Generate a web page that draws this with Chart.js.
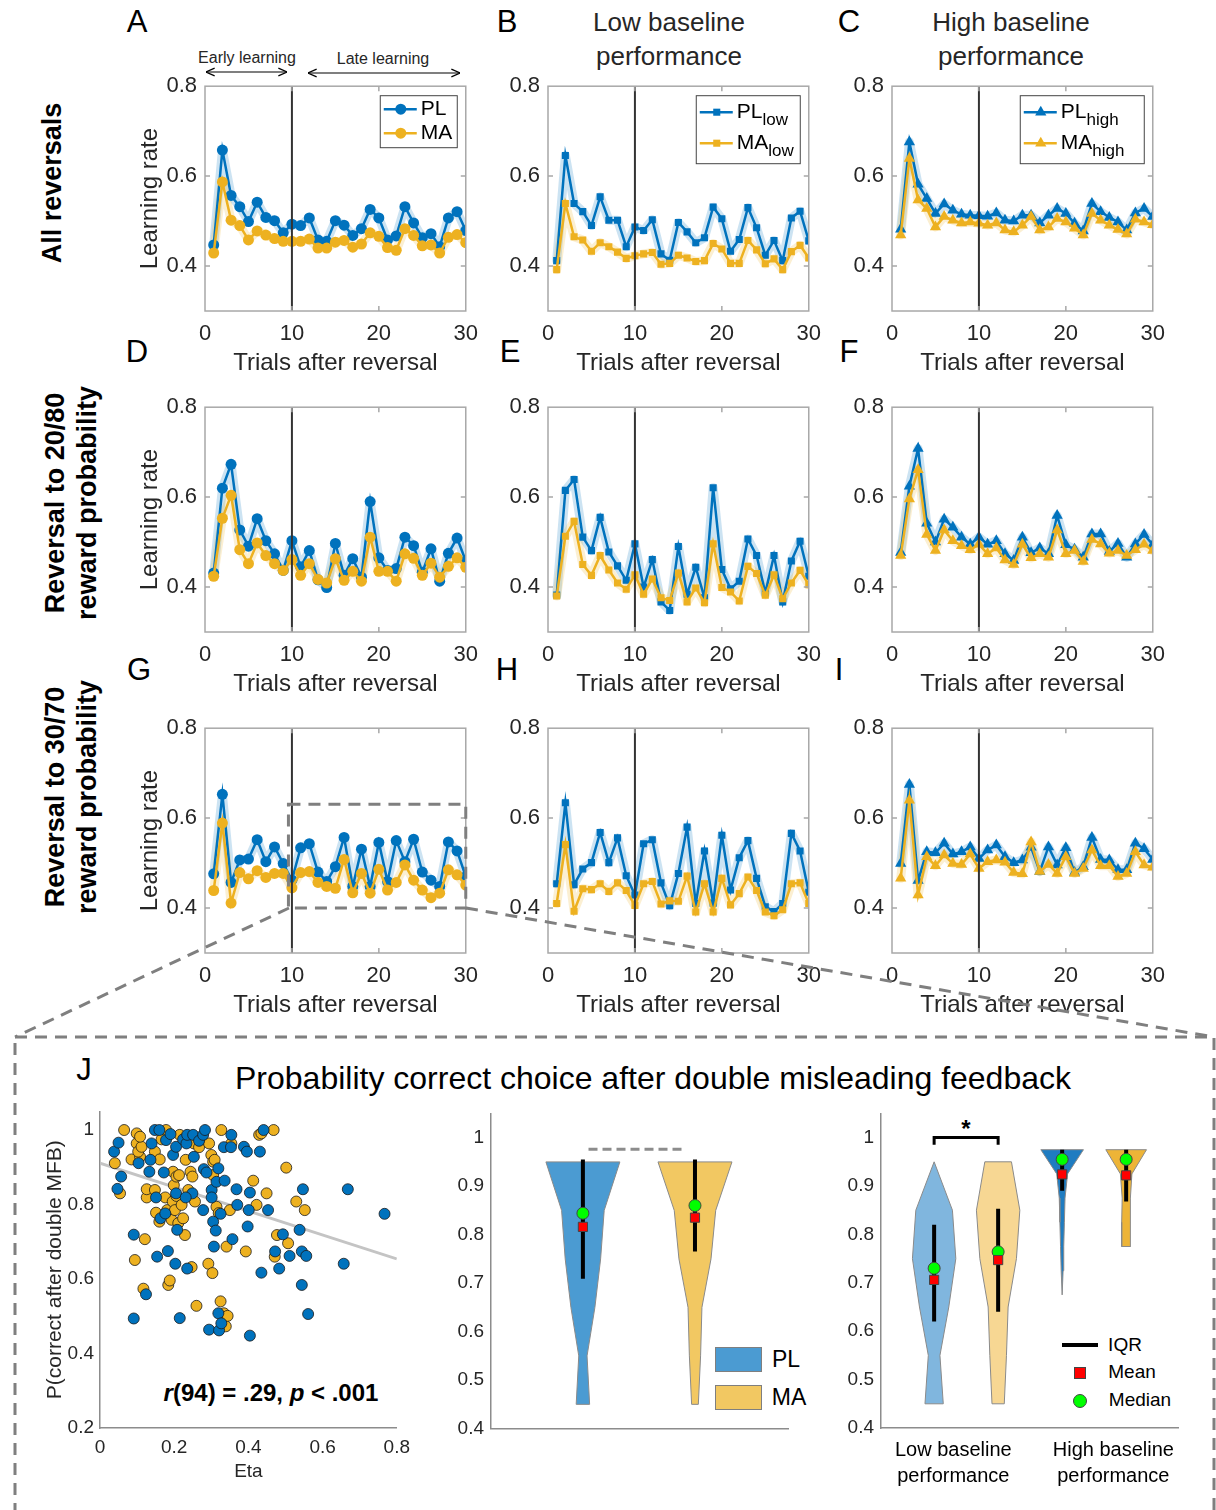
<!DOCTYPE html>
<html>
<head>
<meta charset="utf-8">
<script src="https://cdn.jsdelivr.net/npm/chart.js@4.4.1/dist/chart.umd.min.js"></script>
<style>
body { margin: 0; background: #fff; }
#fig { position: relative; width: 1216px; height: 1510px; overflow: hidden; font-family: "Liberation Sans", Arial, Helvetica, sans-serif; color: #262626; }
#fig canvas { position: absolute; }
.t { position: absolute; transform: translate(-50%, -50%); white-space: nowrap; }
.rot { position: absolute; transform: translate(-50%, -50%) rotate(-90deg); white-space: nowrap; text-align: center; font-weight: bold; font-size: 27px; line-height: 32px; color: #000; }
.letter { font-size: 31px; color: #000; }
.sw { position: absolute; border: 1px solid #7f7f7f; }
</style>
</head>
<body>
<div id="fig">
  <div class="t letter" style="left:137px;top:22px">A</div>
  <div class="t letter" style="left:507px;top:22px">B</div>
  <div class="t letter" style="left:849px;top:22px">C</div>
  <div class="t letter" style="left:137px;top:352px">D</div>
  <div class="t letter" style="left:510px;top:352px">E</div>
  <div class="t letter" style="left:849px;top:352px">F</div>
  <div class="t letter" style="left:139px;top:670px">G</div>
  <div class="t letter" style="left:507px;top:670px">H</div>
  <div class="t letter" style="left:839px;top:670px">I</div>
  <div class="t letter" style="left:84px;top:1070px">J</div>

  <div class="t" style="left:669px;top:39px;font-size:26px;line-height:34px;text-align:center">Low baseline<br>performance</div>
  <div class="t" style="left:1011px;top:39px;font-size:26px;line-height:34px;text-align:center">High baseline<br>performance</div>

  <div class="rot" style="left:52px;top:183px">All reversals</div>
  <div class="rot" style="left:71px;top:503px">Reversal to 20/80<br>reward probability</div>
  <div class="rot" style="left:71px;top:797px">Reversal to 30/70<br>reward probability</div>

  <div class="t" style="left:247px;top:58px;font-size:16px">Early learning</div>
  <div class="t" style="left:383px;top:59px;font-size:16px">Late learning</div>

  <div class="t" style="left:653px;top:1078px;font-size:32px;color:#000">Probability correct choice after double misleading feedback</div>
  <div class="t" style="left:271px;top:1393px;font-size:24px;font-weight:bold;color:#000"><i>r</i>(94) = .29, <i>p</i> &lt; .001</div>

  <div class="sw" style="left:715px;top:1347px;width:45px;height:23px;background:#4b9bd2"></div>
  <div class="t" style="left:786px;top:1359px;font-size:23px;color:#000">PL</div>
  <div class="sw" style="left:715px;top:1385px;width:45px;height:23px;background:#f2c862"></div>
  <div class="t" style="left:789px;top:1397px;font-size:23px;color:#000">MA</div>

  <div class="t" style="left:966px;top:1129px;font-size:24px;font-weight:bold;color:#000">*</div>

  <div style="position:absolute;left:1062px;top:1343px;width:36px;height:4px;background:#000"></div>
  <div class="t" style="left:1125px;top:1345px;font-size:19px;color:#000">IQR</div>
  <div style="position:absolute;left:1074px;top:1367px;width:10px;height:10px;background:#f00;border:1px solid #444"></div>
  <div class="t" style="left:1132px;top:1372px;font-size:19px;color:#000">Mean</div>
  <div style="position:absolute;left:1073px;top:1394px;width:12px;height:12px;border-radius:50%;background:#0f0;border:1px solid #444"></div>
  <div class="t" style="left:1140px;top:1400px;font-size:19px;color:#000">Median</div>

  <svg width="1216" height="1510" style="position:absolute;left:0;top:0;pointer-events:none;z-index:5">
    <defs>
      <marker id="ah" viewBox="0 0 10 10" refX="10" refY="5" markerWidth="8" markerHeight="8" orient="auto-start-reverse">
        <path d="M1,1 L10,5 L1,9" fill="none" stroke="#000" stroke-width="1.3"/>
      </marker>
    </defs>
    <line x1="206" y1="72" x2="287" y2="72" stroke="#000" stroke-width="1.2" marker-start="url(#ah)" marker-end="url(#ah)"/>
    <line x1="308" y1="73" x2="460" y2="73" stroke="#000" stroke-width="1.2" marker-start="url(#ah)" marker-end="url(#ah)"/>
    <g stroke="#7f7f7f" stroke-width="3" stroke-dasharray="12 8" fill="none">
      <rect x="15" y="1037" width="1199" height="520"/>
      <line x1="289" y1="908" x2="15" y2="1037"/>
      <line x1="466" y1="908" x2="1214" y2="1037"/>
    </g>
  </svg>
</div>

<script>
const BLUE = '#0072BD', ORANGE = '#EDB120';
const BLUE_BAND = 'rgba(0,114,189,0.2)', ORANGE_BAND = 'rgba(237,177,32,0.2)';
const TXT = '#262626';

// trial index after reversal
const trials = [1,2,3,4,5,6,7,8,9,10,11,12,13,14,15,16,17,18,19,20,21,22,23,24,25,26,27,28,29,30];

// A: all reversals
const allPL  = [0.447,0.658,0.557,0.532,0.499,0.542,0.508,0.501,0.474,0.493,0.490,0.507,0.458,0.455,0.501,0.491,0.468,0.483,0.526,0.507,0.458,0.467,0.532,0.496,0.463,0.472,0.443,0.507,0.521,0.479];
const allMA  = [0.429,0.587,0.502,0.490,0.458,0.478,0.469,0.461,0.455,0.455,0.455,0.460,0.440,0.440,0.453,0.457,0.442,0.449,0.474,0.466,0.441,0.435,0.483,0.468,0.445,0.447,0.429,0.464,0.470,0.452];
// B, C: all reversals split by baseline performance
const lowPL  = [0.412,0.646,0.539,0.521,0.490,0.554,0.502,0.502,0.443,0.487,0.479,0.503,0.427,0.413,0.497,0.476,0.452,0.463,0.531,0.505,0.433,0.459,0.530,0.485,0.424,0.457,0.412,0.507,0.522,0.456];
const lowMA  = [0.392,0.539,0.465,0.458,0.433,0.452,0.443,0.431,0.417,0.423,0.427,0.430,0.404,0.406,0.424,0.418,0.410,0.412,0.450,0.438,0.406,0.406,0.457,0.436,0.405,0.416,0.392,0.432,0.446,0.418];
const highPL = [0.482,0.676,0.582,0.550,0.517,0.538,0.524,0.515,0.513,0.512,0.511,0.518,0.502,0.500,0.513,0.513,0.496,0.513,0.528,0.517,0.495,0.478,0.539,0.521,0.508,0.498,0.480,0.518,0.528,0.510];
const highMA = [0.469,0.639,0.547,0.528,0.487,0.510,0.502,0.496,0.498,0.495,0.491,0.496,0.480,0.476,0.491,0.510,0.480,0.487,0.506,0.498,0.484,0.469,0.517,0.502,0.491,0.481,0.471,0.504,0.498,0.492];
// D, E, F: reversal to 20/80
const r20PL     = [0.431,0.620,0.673,0.527,0.491,0.552,0.503,0.474,0.437,0.503,0.445,0.481,0.416,0.399,0.497,0.426,0.463,0.422,0.590,0.465,0.437,0.441,0.511,0.492,0.433,0.485,0.413,0.475,0.509,0.458];
const r20MA     = [0.424,0.553,0.604,0.483,0.452,0.498,0.470,0.452,0.437,0.461,0.426,0.452,0.417,0.409,0.463,0.415,0.435,0.413,0.511,0.435,0.435,0.413,0.474,0.464,0.426,0.453,0.422,0.446,0.465,0.444];
const r20lowPL  = [0.382,0.615,0.639,0.511,0.481,0.555,0.478,0.447,0.415,0.496,0.400,0.461,0.367,0.348,0.490,0.384,0.444,0.376,0.621,0.439,0.396,0.413,0.507,0.470,0.387,0.470,0.367,0.458,0.502,0.424];
const r20lowMA  = [0.380,0.513,0.546,0.450,0.426,0.470,0.438,0.409,0.395,0.427,0.384,0.418,0.376,0.370,0.431,0.367,0.398,0.365,0.496,0.399,0.389,0.369,0.446,0.430,0.382,0.427,0.374,0.409,0.437,0.405];
const r20highPL = [0.477,0.624,0.708,0.542,0.500,0.551,0.533,0.511,0.495,0.511,0.495,0.503,0.474,0.459,0.511,0.476,0.487,0.474,0.559,0.494,0.484,0.466,0.518,0.518,0.479,0.497,0.466,0.496,0.517,0.494];
const r20highMA = [0.470,0.596,0.661,0.517,0.481,0.527,0.503,0.492,0.483,0.495,0.474,0.487,0.460,0.450,0.495,0.465,0.474,0.466,0.527,0.474,0.481,0.457,0.506,0.496,0.475,0.481,0.470,0.483,0.495,0.481];
// G, H, I: reversal to 30/70
const r30PL     = [0.476,0.653,0.457,0.507,0.509,0.552,0.503,0.536,0.499,0.462,0.534,0.543,0.480,0.459,0.492,0.557,0.448,0.531,0.448,0.546,0.459,0.550,0.503,0.553,0.480,0.462,0.448,0.547,0.527,0.470];
const r30MA     = [0.439,0.589,0.411,0.479,0.465,0.483,0.468,0.477,0.477,0.445,0.479,0.481,0.457,0.448,0.444,0.508,0.434,0.477,0.433,0.486,0.440,0.457,0.496,0.462,0.440,0.423,0.433,0.485,0.474,0.451];
const r30lowPL  = [0.454,0.634,0.452,0.487,0.501,0.568,0.501,0.556,0.472,0.429,0.543,0.552,0.456,0.405,0.477,0.580,0.410,0.527,0.411,0.562,0.440,0.512,0.550,0.466,0.403,0.392,0.410,0.566,0.527,0.435];
const r30lowMA  = [0.410,0.541,0.393,0.443,0.441,0.454,0.437,0.456,0.439,0.406,0.454,0.459,0.409,0.416,0.415,0.471,0.391,0.454,0.391,0.466,0.407,0.432,0.469,0.439,0.391,0.383,0.396,0.454,0.456,0.410];
const r30highPL = [0.499,0.675,0.461,0.525,0.523,0.544,0.520,0.525,0.536,0.510,0.529,0.540,0.514,0.501,0.507,0.535,0.481,0.536,0.496,0.534,0.479,0.492,0.557,0.508,0.507,0.485,0.485,0.544,0.532,0.508];
const r30highMA = [0.466,0.640,0.429,0.514,0.494,0.518,0.499,0.497,0.520,0.488,0.503,0.507,0.502,0.479,0.476,0.547,0.481,0.497,0.477,0.514,0.477,0.488,0.529,0.494,0.494,0.470,0.477,0.525,0.496,0.491];

const lrTicks = [0.4, 0.6, 0.8];
const trialTicks = [0, 10, 20, 30];

// J left: eta vs P(correct after double MFB)
const etaPL = [0.038,0.050,0.057,0.047,0.091,0.091,0.104,0.124,0.133,0.136,0.139,0.148,0.160,0.151,0.154,0.163,0.172,0.176,0.183,0.178,0.190,0.197,0.205,0.203,0.208,0.215,0.205,0.224,0.233,0.235,0.251,0.253,0.249,0.231,0.235,0.267,0.278,0.283,0.280,0.287,0.278,0.301,0.301,0.305,0.307,0.312,0.319,0.314,0.325,0.294,0.319,0.321,0.327,0.336,0.334,0.354,0.353,0.357,0.368,0.370,0.388,0.396,0.398,0.404,0.401,0.404,0.431,0.435,0.441,0.453,0.472,0.483,0.493,0.511,0.538,0.544,0.544,0.547,0.556,0.561,0.657,0.668,0.767];
const pcPL  = [0.942,0.966,0.875,0.842,0.719,0.494,0.911,0.559,0.888,0.920,0.964,1.000,1.000,0.819,0.660,0.763,0.886,0.776,0.675,0.973,0.989,0.933,0.830,0.641,0.732,0.495,0.955,0.975,0.964,0.987,0.987,0.928,0.830,0.819,0.628,0.971,0.987,1.000,0.895,0.886,0.785,0.839,0.819,0.754,0.687,0.730,0.897,0.861,0.775,0.464,0.508,0.462,0.481,0.864,0.954,0.987,0.954,0.707,0.841,0.799,0.955,0.942,0.741,0.832,0.785,0.448,0.942,0.617,1.000,0.785,0.674,0.628,0.720,0.662,0.732,0.674,0.584,0.841,0.662,0.506,0.641,0.841,0.775];
const etaMA = [0.065,0.040,0.054,0.094,0.085,0.099,0.099,0.108,0.103,0.112,0.108,0.121,0.126,0.126,0.117,0.148,0.148,0.151,0.160,0.161,0.166,0.178,0.176,0.181,0.184,0.188,0.193,0.196,0.197,0.199,0.202,0.206,0.206,0.211,0.213,0.215,0.220,0.224,0.229,0.231,0.238,0.244,0.247,0.249,0.256,0.260,0.253,0.267,0.292,0.294,0.300,0.303,0.305,0.305,0.309,0.314,0.320,0.325,0.327,0.334,0.341,0.339,0.344,0.350,0.354,0.413,0.393,0.422,0.429,0.435,0.449,0.468,0.471,0.477,0.507,0.502,0.529,0.552];
const pcMA  = [1.000,0.911,0.830,0.651,0.921,0.991,0.964,0.928,0.942,0.955,0.982,0.707,0.819,0.841,0.574,0.839,0.942,0.778,0.754,0.921,0.975,1.000,0.819,0.785,0.584,0.596,0.759,0.808,0.888,0.852,0.785,0.823,0.875,0.750,0.879,0.987,0.799,0.763,0.718,0.920,0.839,0.888,0.632,0.875,0.808,0.528,0.964,0.954,0.641,0.964,0.933,0.616,0.915,0.879,0.920,0.794,0.777,0.540,1.000,0.508,0.687,0.473,0.501,0.785,0.964,0.864,0.674,0.799,0.987,0.991,0.830,1.000,0.660,0.718,0.696,0.899,0.808,0.785];
const fitEta = [0, 0.8];
const fitPc  = [0.911, 0.654];

// J middle: PL vs MA violins (density half-widths at each level)
const vioLevels = [0.45, 0.55, 0.65, 0.75, 0.85, 0.95];
const vioPL = [0.060, 0.037, 0.107, 0.158, 0.190, 0.330];
const vioMA = [0.030, 0.050, 0.062, 0.143, 0.185, 0.330];
const groupIQR = [[0.709, 0.955], [0.765, 0.955]];
const groupMedian = [0.844, 0.860];
const groupMean = [0.816, 0.835];
const sepLine = [[1.05, 0.976], [1.92, 0.976]];

// J right: split by baseline performance
const lowLevels = [0.45, 0.55, 0.65, 0.75, 0.85, 0.95];
const lowPLw = [0.143, 0.091, 0.229, 0.339, 0.286, 0.000];
const lowMAw = [0.096, 0.130, 0.156, 0.286, 0.339, 0.208];
const highPLlevels = [0.675, 0.725, 0.775, 0.825, 0.875, 0.925, 0.975];
const highPLw = [0.000, 0.015, 0.025, 0.035, 0.045, 0.085, 0.333];
const highMAlevels = [0.775, 0.825, 0.875, 0.925, 0.975];
const highMAw = [0.070, 0.070, 0.062, 0.090, 0.318];
const splitIQR = [[0.620, 0.820], [0.640, 0.853], [0.890, 0.975], [0.868, 0.975]];
const splitMedian = [0.730, 0.764, 0.955, 0.955];
const splitMean = [0.706, 0.747, 0.924, 0.922];
const sigBracket = [[1, 0.985], [1, 1.0], [2, 1.0], [2, 0.985]];
const splitLabels = [['Low baseline', 'performance'], ['High baseline', 'performance']];
const splitLabelPos = [1.3, 3.8];

Chart.defaults.font.family = '"Liberation Sans", Arial, Helvetica, sans-serif';
Chart.defaults.color = TXT;
Chart.defaults.animation = false;
Chart.defaults.events = [];
Chart.defaults.plugins.legend.display = false;
Chart.defaults.plugins.tooltip.enabled = false;

const fig = document.getElementById('fig');

// build a chart, then grow its canvas until the plot area has the wanted size,
// and shift the canvas so the plot area lands at (x, y)
function placeChart(target, pad, makeConfig) {
  let w = pad.l + target.w + pad.r, h = pad.t + target.h + pad.b;
  const cv = document.createElement('canvas');
  fig.appendChild(cv);
  let chart = null;
  for (let k = 0; k < 3; k++) {
    if (chart) chart.destroy();
    cv.width = w; cv.height = h;
    cv.style.width = w + 'px'; cv.style.height = h + 'px';
    chart = new Chart(cv, makeConfig());
    const a = chart.chartArea;
    const dw = Math.round(target.w - (a.right - a.left)), dh = Math.round(target.h - (a.bottom - a.top));
    if (!dw && !dh) break;
    w += dw; h += dh;
  }
  const a = chart.chartArea;
  cv.style.left = (target.x - a.left) + 'px';
  cv.style.top = (target.y - a.top) + 'px';
  return chart;
}
const fixedTicks = vals => scale => { scale.ticks = vals.map(v => ({value: v})); };
const numLabel = v => String(+v.toFixed(2));

function drawMarker(ctx, style, x, y, r) {
  ctx.beginPath();
  if (style === 'circle') ctx.arc(x, y, r, 0, Math.PI * 2);
  else if (style === 'rect') { const s = r * Math.SQRT1_2; ctx.rect(x - s, y - s, 2 * s, 2 * s); }
  else { ctx.moveTo(x, y - r); ctx.lineTo(x + r * 0.866, y + r * 0.5); ctx.lineTo(x - r * 0.866, y + r * 0.5); ctx.closePath(); }
  ctx.fill();
}

// box, inward ticks, reversal line, in-axes legend and zoom rectangle
const panelDecor = {
  id: 'panelDecor',
  afterDatasetsDraw(chart, args, o) {
    const {ctx, chartArea: a, scales: {x, y}} = chart;
    ctx.save();
    const xr = x.getPixelForValue(10);
    ctx.strokeStyle = '#333'; ctx.lineWidth = 2;
    ctx.beginPath(); ctx.moveTo(xr, a.top); ctx.lineTo(xr, a.bottom); ctx.stroke();

    ctx.strokeStyle = '#a8a8a8'; ctx.lineWidth = 1.5;
    ctx.strokeRect(a.left, a.top, a.width, a.height);
    ctx.beginPath();
    [10, 20].forEach(v => {
      const p = x.getPixelForValue(v);
      ctx.moveTo(p, a.bottom); ctx.lineTo(p, a.bottom - 5);
      ctx.moveTo(p, a.top); ctx.lineTo(p, a.top + 5);
    });
    [0.4, 0.6].forEach(v => {
      const p = y.getPixelForValue(v);
      ctx.moveTo(a.left, p); ctx.lineTo(a.left + 5, p);
      ctx.moveTo(a.right, p); ctx.lineTo(a.right - 5, p);
    });
    ctx.stroke();

    if (o.rect) {
      const r = o.rect;
      ctx.setLineDash([12, 8]);
      ctx.strokeStyle = '#7f7f7f'; ctx.lineWidth = 3;
      const x0 = x.getPixelForValue(r[0]), x1 = x.getPixelForValue(r[1]);
      const y0 = y.getPixelForValue(r[2]), y1 = y.getPixelForValue(r[3]);
      ctx.strokeRect(x0, y1, x1 - x0, y0 - y1);
      ctx.setLineDash([]);
    }

    if (o.legend) {
      const L = o.legend;
      const bx = a.right - 9 - L.w, by = a.top + 9;
      ctx.fillStyle = '#fff';
      ctx.fillRect(bx, by, L.w, L.h);
      ctx.strokeStyle = '#444'; ctx.lineWidth = 1;
      ctx.strokeRect(bx + 0.5, by + 0.5, L.w, L.h);
      L.items.forEach((it, i) => {
        const yy = by + L.rows[i];
        ctx.strokeStyle = it.color; ctx.fillStyle = it.color; ctx.lineWidth = 2.5;
        ctx.beginPath(); ctx.moveTo(bx + 4, yy); ctx.lineTo(bx + 37, yy); ctx.stroke();
        drawMarker(ctx, o.marker, bx + 21, yy, o.radius);
        ctx.fillStyle = '#000';
        ctx.textBaseline = 'middle';
        ctx.font = '21px "Liberation Sans", Arial';
        ctx.fillText(it.label, bx + 41, yy);
        if (it.sub) {
          const w = ctx.measureText(it.label).width;
          ctx.font = '17px "Liberation Sans", Arial';
          ctx.fillText(it.sub, bx + 41 + w, yy + 8);
        }
      });
    }
    ctx.restore();
  }
};

const COL_X = [205, 548, 892], ROW_Y = [86, 407, 728];
const PLOT_W = 261, PLOT_H = 225;
const MARKERS = {circle: 5.5, rect: 5, triangle: 6.5};

const panels = [
  {col: 0, row: 0, pl: allPL, ma: allMA, marker: 'circle', legend: {w: 77, h: 52, rows: [14, 38], sub: ''}},
  {col: 1, row: 0, pl: lowPL, ma: lowMA, marker: 'rect', legend: {w: 104, h: 68, rows: [17, 48], sub: 'low'}},
  {col: 2, row: 0, pl: highPL, ma: highMA, marker: 'triangle', legend: {w: 124, h: 68, rows: [17, 48], sub: 'high'}},
  {col: 0, row: 1, pl: r20PL, ma: r20MA, marker: 'circle'},
  {col: 1, row: 1, pl: r20lowPL, ma: r20lowMA, marker: 'rect'},
  {col: 2, row: 1, pl: r20highPL, ma: r20highMA, marker: 'triangle'},
  {col: 0, row: 2, pl: r30PL, ma: r30MA, marker: 'circle', rect: [9.6, 30, 0.4, 0.631]},
  {col: 1, row: 2, pl: r30lowPL, ma: r30lowMA, marker: 'rect'},
  {col: 2, row: 2, pl: r30highPL, ma: r30highMA, marker: 'triangle'}
];

panels.forEach(p => {
  const L = 73, T = 14, R = 16, B = 68;
  const rad = MARKERS[p.marker];
  const pts = arr => trials.map((t, i) => ({x: t, y: arr[i]}));
  const mean = (arr, color) => ({
    data: pts(arr), borderColor: color, backgroundColor: color, borderWidth: 2.5,
    pointStyle: p.marker, pointRadius: rad, pointBorderWidth: 0, pointBackgroundColor: color
  });
  const band = (arr, color) => ({
    data: pts(arr), borderColor: color, borderWidth: 9, pointRadius: 0, borderJoinStyle: 'round', borderCapStyle: 'round'
  });
  const legend = p.legend ? Object.assign({}, p.legend, {
    items: [{label: 'PL', sub: p.legend.sub, color: BLUE}, {label: 'MA', sub: p.legend.sub, color: ORANGE}]
  }) : null;

  placeChart({x: COL_X[p.col], y: ROW_Y[p.row], w: PLOT_W, h: PLOT_H}, {l: L, t: T, r: R, b: B}, () => ({
    type: 'line',
    data: {datasets: [mean(p.ma, ORANGE), mean(p.pl, BLUE), band(p.ma, ORANGE_BAND), band(p.pl, BLUE_BAND)]},
    options: {
      responsive: false,
      maintainAspectRatio: false,
      layout: {padding: {top: T, right: R, left: 0, bottom: 0}},
      scales: {
        x: {
          type: 'linear', min: 0, max: 30,
          afterBuildTicks: fixedTicks(trialTicks),
          afterFit: s => { s.height = B; },
          grid: {display: false, drawTicks: false},
          border: {display: false},
          ticks: {font: {size: 22}, color: TXT, padding: 10, maxRotation: 0, callback: numLabel},
          title: {display: true, text: 'Trials after reversal', font: {size: 24}, color: TXT, padding: {top: 0, bottom: 1}}
        },
        y: {
          min: 0.3, max: 0.8,
          afterBuildTicks: fixedTicks(lrTicks),
          afterFit: s => { s.width = L; },
          grid: {display: false, drawTicks: false},
          border: {display: false},
          ticks: {font: {size: 22}, color: TXT, padding: 8, callback: v => v.toFixed(1)},
          title: {display: p.col === 0, text: 'Learning rate', font: {size: 24}, color: TXT, padding: {top: 4, bottom: 0}}
        }
      },
      plugins: {panelDecor: {legend, marker: p.marker, radius: rad, rect: p.rect || null}}
    },
    plugins: [panelDecor]
  }));
});

// ---- J left: scatter with regression line
(() => {
  const L = 61, T = 14, R = 16, B = 58;
  const dots = (xs, ys, color) => ({
    data: xs.map((v, i) => ({x: v, y: ys[i]})),
    pointRadius: 5.5, backgroundColor: color, borderColor: '#1a1a1a', borderWidth: 0.8
  });
  placeChart({x: 100, y: 1111, w: 297, h: 317}, {l: L, t: T, r: R, b: B}, () => ({
    type: 'scatter',
    data: {datasets: [
      dots(etaPL, pcPL, BLUE),
      dots(etaMA, pcMA, ORANGE),
      {data: fitEta.map((v, i) => ({x: v, y: fitPc[i]})), showLine: true, borderColor: '#c4c4c4', borderWidth: 3, pointRadius: 0}
    ]},
    options: {
      responsive: false,
      maintainAspectRatio: false,
      layout: {padding: {top: T, right: R, left: 0, bottom: 0}},
      scales: {
        x: {
          type: 'linear', min: 0, max: 0.8,
          afterBuildTicks: fixedTicks([0, 0.2, 0.4, 0.6, 0.8]),
          afterFit: s => { s.height = B; },
          grid: {display: false, drawTicks: false},
          border: {display: true, color: '#8c8c8c', width: 1.5},
          ticks: {font: {size: 19}, color: TXT, padding: 8, maxRotation: 0, callback: numLabel},
          title: {display: true, text: 'Eta', font: {size: 19}, color: TXT, padding: {top: 0, bottom: 3}}
        },
        y: {
          min: 0.2, max: 1.05,
          afterBuildTicks: fixedTicks([0.2, 0.4, 0.6, 0.8, 1]),
          afterFit: s => { s.width = L; },
          grid: {display: false, drawTicks: false},
          border: {display: true, color: '#8c8c8c', width: 1.5},
          ticks: {font: {size: 19}, color: TXT, padding: 6, callback: numLabel},
          title: {display: true, text: 'P(correct after double MFB)', font: {size: 21}, color: TXT, padding: {top: 4, bottom: 0}}
        }
      }
    }
  }));
})();

// ---- violin helpers
function violin(center, levels, half, fill) {
  const right = levels.map((v, i) => ({x: center + half[i], y: v}));
  const left = levels.map((v, i) => ({x: center - half[i], y: v})).reverse();
  return {data: right.concat(left, [right[0]]), showLine: true, fill: 'shape', backgroundColor: fill,
          borderColor: '#8a8a8a', borderWidth: 1, pointRadius: 0, tension: 0};
}
function summaryDatasets(centers, iqr, med, mn) {
  const out = [
    {data: centers.map((c, i) => ({x: c, y: mn[i]})), pointStyle: 'rect', pointRadius: 6.5,
     backgroundColor: '#ff0000', borderColor: '#444', borderWidth: 1},
    {data: centers.map((c, i) => ({x: c, y: med[i]})), pointStyle: 'circle', pointRadius: 6,
     backgroundColor: '#00ff00', borderColor: '#444', borderWidth: 1}
  ];
  centers.forEach((c, i) => out.push({data: [{x: c, y: iqr[i][0]}, {x: c, y: iqr[i][1]}], showLine: true,
    borderColor: '#000', borderWidth: 4, pointRadius: 0}));
  return out;
}
function violinAxes(xmin, xmax, B, xTicks) {
  return {
    x: {
      type: 'linear', min: xmin, max: xmax,
      afterBuildTicks: fixedTicks(xTicks ? xTicks.pos : []),
      afterFit: s => { s.height = B; },
      grid: {display: false, drawTicks: false},
      border: {display: true, color: '#8c8c8c', width: 1.5},
      ticks: {display: !!xTicks, font: {size: 20, lineHeight: 1.3}, color: '#000', padding: 9, maxRotation: 0,
              autoSkip: false, callback: (v, i) => xTicks ? xTicks.labels[i] : ''}
    },
    y: {
      min: 0.4, max: 1.05,
      afterBuildTicks: fixedTicks([0.4, 0.5, 0.6, 0.7, 0.8, 0.9, 1]),
      afterFit: s => { s.width = 50; },
      grid: {display: false, drawTicks: false},
      border: {display: true, color: '#8c8c8c', width: 1.5},
      ticks: {font: {size: 19}, color: TXT, padding: 7, callback: numLabel}
    }
  };
}

// ---- J middle: PL vs MA
placeChart({x: 491, y: 1113, w: 297, h: 315}, {l: 50, t: 14, r: 10, b: 8}, () => ({
  type: 'scatter',
  data: {datasets: [
    ...summaryDatasets([1, 2], groupIQR, groupMedian, groupMean),
    {data: sepLine.map(p => ({x: p[0], y: p[1]})), showLine: true, borderColor: '#8c8c8c', borderWidth: 3,
     borderDash: [9, 5], pointRadius: 0},
    violin(1, vioLevels, vioPL, '#4b9bd2'),
    violin(2, vioLevels, vioMA, '#f2c862')
  ]},
  options: {
    responsive: false,
    maintainAspectRatio: false,
    layout: {padding: {top: 14, right: 10, left: 0, bottom: 0}},
    scales: violinAxes(0.18, 2.83, 8, null)
  }
}));

// ---- J right: split by baseline performance
placeChart({x: 881, y: 1113, w: 297, h: 315}, {l: 50, t: 14, r: 20, b: 72}, () => ({
  type: 'scatter',
  data: {datasets: [
    ...summaryDatasets([1, 2, 3, 4], splitIQR, splitMedian, splitMean),
    {data: sigBracket.map(p => ({x: p[0], y: p[1]})), showLine: true, borderColor: '#000', borderWidth: 3, pointRadius: 0},
    violin(1, lowLevels, lowPLw, '#80b6de'),
    violin(2, lowLevels, lowMAw, '#f7d793'),
    violin(3, highPLlevels, highPLw, '#1f7cc1'),
    violin(4, highMAlevels, highMAw, '#edb437')
  ]},
  options: {
    responsive: false,
    maintainAspectRatio: false,
    layout: {padding: {top: 14, right: 20, left: 0, bottom: 0}},
    scales: violinAxes(0.17, 4.81, 72, {pos: splitLabelPos, labels: splitLabels})
  }
}));
</script>
</body>
</html>
